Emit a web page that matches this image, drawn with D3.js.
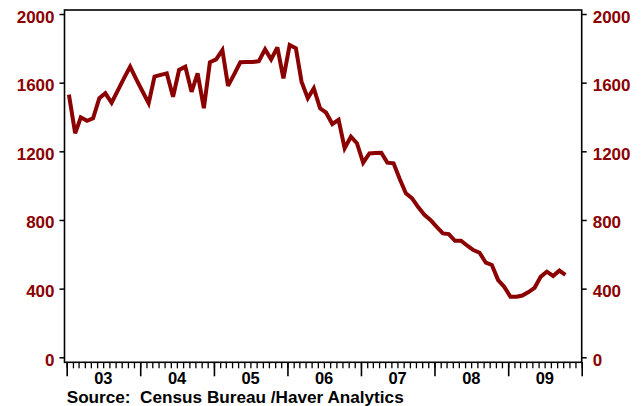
<!DOCTYPE html>
<html>
<head>
<meta charset="utf-8">
<script src="https://cdn.jsdelivr.net/npm/d3@7"></script>
<style>
  html, body { margin: 0; padding: 0; background: #fff; }
  svg { display: block; }
  text { font-family: "Liberation Sans", Arial, sans-serif; font-weight: bold; }
</style>
</head>
<body>
<svg id="chart" width="644" height="406"></svg>
<script>
// ---- data (monthly, Jan 2003 .. Oct 2009, thousands, SAAR) ----
const startYear = 2003;
const startMonth = 0; // January
const seriesValues = [
  1530, 1305, 1398, 1378, 1392, 1509, 1538, 1483, 1555, 1625, 1693, 1620, // 2003
  1550, 1480, 1635, 1645, 1654, 1518, 1674, 1693, 1547, 1654, 1451, 1719, // 2004
  1736, 1790, 1581, 1650, 1719, 1720, 1720, 1725, 1794, 1736, 1806, 1625, // 2005
  1819, 1800, 1606, 1509, 1567, 1451, 1425, 1359, 1383, 1218, 1285, 1247, // 2006
  1134, 1188, 1190, 1192, 1134, 1130, 1040,  955,  926,  875,  830,  800, // 2007
   760,  722,  718,  679,  679,  650,  625,  609,  551,  538,  450,  411, // 2008
   353,  353,  360,  380,  405,  470,  499,  474,  505,  480              // 2009
];
const yTickValues = [0, 400, 800, 1200, 1600, 2000];
const xYearLabels = ["03", "04", "05", "06", "07", "08", "09"];
const sourceText = "Source:  Census Bureau /Haver Analytics";

// ---- layout ----
const svg = d3.select("#chart");
const frame = { left: 64.5, right: 581.7, top: 10, bottom: 362.3 };
const red = "#8b0000";

const x = d3.scaleTime()
  .domain([new Date(2003, 0, 1), new Date(2010, 0, 1)])
  .range([66.7, 581.7]);
const y = d3.scaleLinear().domain([0, 2000]).range([357.3, 14]);

const data = seriesValues.map((v, i) => ({
  date: new Date(startYear, startMonth + i, 12),
  value: v
}));

// frame
svg.append("rect")
  .attr("x", frame.left).attr("y", frame.top)
  .attr("width", frame.right - frame.left)
  .attr("height", frame.bottom - frame.top)
  .attr("fill", "none").attr("stroke", "#000").attr("stroke-width", 1.6);

const fmt = d3.format("d");

// left y axis
const leftAxis = d3.axisLeft(y).tickValues(yTickValues).tickFormat(fmt).tickSize(5).tickPadding(5);
const gl = svg.append("g").attr("transform", `translate(${frame.left},0)`).call(leftAxis);
gl.select(".domain").remove();
gl.selectAll(".tick line").attr("stroke", "#000").attr("stroke-width", 1.5);
gl.selectAll(".tick text")
  .attr("fill", red).attr("font-size", 17).attr("dy", "8")
  .style("font-family", '"Liberation Sans", Arial, sans-serif').style("font-weight", "bold");

// right y axis
const rightAxis = d3.axisRight(y).tickValues(yTickValues).tickFormat(fmt).tickSize(5).tickPadding(6);
const gr = svg.append("g").attr("transform", `translate(${frame.right},0)`).call(rightAxis);
gr.select(".domain").remove();
gr.selectAll(".tick line").attr("stroke", "#000").attr("stroke-width", 1.5);
gr.selectAll(".tick text")
  .attr("fill", red).attr("font-size", 17).attr("dy", "8")
  .style("font-family", '"Liberation Sans", Arial, sans-serif').style("font-weight", "bold");

// x axis: monthly minor ticks, yearly major ticks
const gx = svg.append("g").attr("transform", `translate(0,${frame.bottom})`);
const minorAxis = d3.axisBottom(x).ticks(d3.timeMonth.every(1)).tickSize(6).tickFormat("");
const gmin = gx.append("g").call(minorAxis);
gmin.select(".domain").remove();
gmin.selectAll(".tick line").attr("stroke", "#000").attr("stroke-width", 1.3);

const majorAxis = d3.axisBottom(x).ticks(d3.timeYear.every(1)).tickSize(14).tickFormat("");
const gmaj = gx.append("g").call(majorAxis);
gmaj.select(".domain").remove();
gmaj.selectAll(".tick line").attr("stroke", "#000").attr("stroke-width", 1.6);

// year labels centred mid-year
gx.selectAll("text.year")
  .data(xYearLabels)
  .join("text")
  .attr("class", "year")
  .attr("x", (d, i) => x(new Date(startYear + i, 6, 2)))
  .attr("y", 21.8)
  .attr("text-anchor", "middle")
  .attr("font-size", 16.5)
  .attr("fill", "#000")
  .text(d => d);

// line
const line = d3.line().x(d => x(d.date)).y(d => y(d.value));
svg.append("path")
  .datum(data)
  .attr("d", line)
  .attr("fill", "none")
  .attr("stroke", red)
  .attr("stroke-width", 4)
  .attr("stroke-linejoin", "miter")
  .attr("stroke-miterlimit", 3);

// source
svg.append("text")
  .attr("x", 66.7).attr("y", 402.5)
  .attr("font-size", 16)
  .attr("fill", "#000")
  .attr("textLength", 337)
  .attr("lengthAdjust", "spacingAndGlyphs")
  .attr("xml:space", "preserve")
  .style("white-space", "pre")
  .text(sourceText);
</script>
</body>
</html>
